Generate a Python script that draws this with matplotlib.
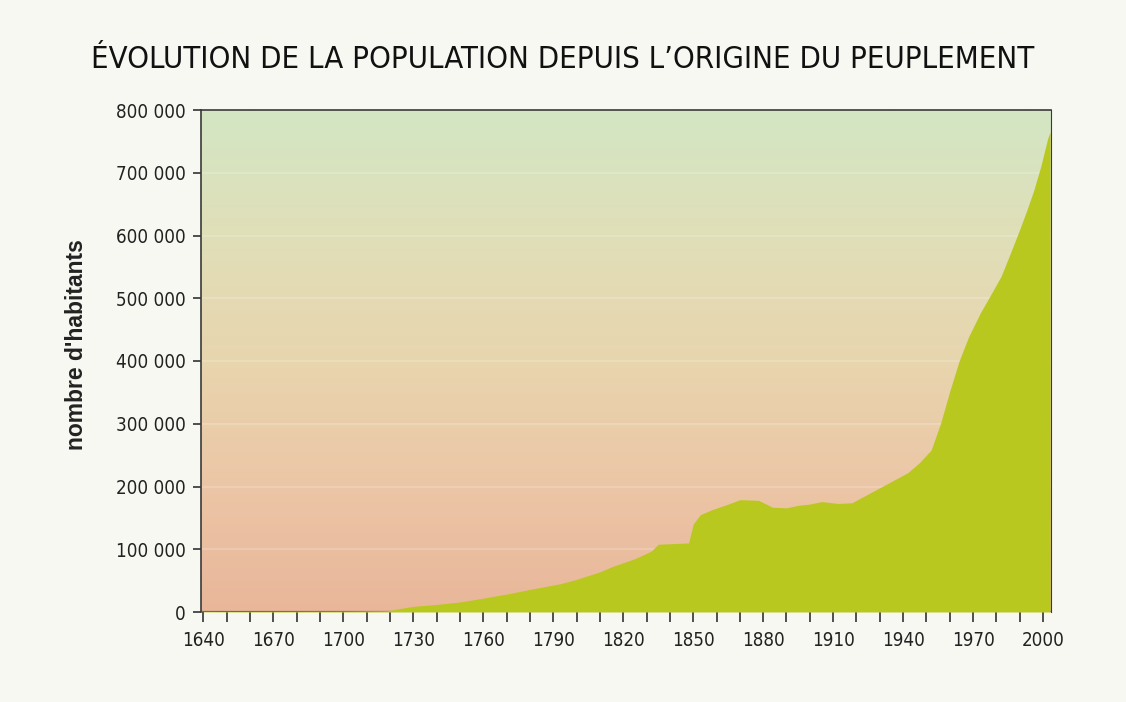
import numpy as np
import matplotlib
matplotlib.use("Agg")
import matplotlib.pyplot as plt
from matplotlib.colors import LinearSegmentedColormap
from matplotlib import font_manager
from matplotlib.font_manager import FontProperties

# ---- data ----
years = [1640, 1660, 1680, 1700, 1719, 1725, 1730, 1740, 1750, 1760, 1772, 1780,
         1793, 1800, 1810, 1815, 1825, 1832, 1835, 1848, 1850, 1853, 1858, 1865,
         1870, 1878, 1884, 1890, 1895, 1900, 1905, 1912, 1918, 1927, 1935, 1942,
         1947, 1952, 1956, 1960, 1964, 1968, 1973, 1977, 1982, 1986, 1990, 1993,
         1996, 1999, 2002, 2003]
population = [600, 800, 1000, 1200, 2000, 6000, 9000, 12000, 16000, 22000, 30000, 36000,
              45000, 52000, 64000, 72000, 85000, 97000, 108000, 110000, 140000, 155000, 163000, 172000,
              179000, 178000, 167000, 166000, 170000, 172000, 176000, 173000, 174000, 192000, 208000, 222000,
              238000, 258000, 300000, 352000, 400000, 438000, 476000, 502000, 535000, 572000, 610000, 640000,
              672000, 710000, 755000, 765000]
x_ticks = list(range(1640, 2001, 10))
x_labels = [str(y) if (y - 1640) % 30 == 0 else "" for y in x_ticks]
y_ticks = list(range(0, 800001, 100000))
y_labels = ["0" if v == 0 else f"{v // 1000} 000" for v in y_ticks]
title = "ÉVOLUTION DE LA POPULATION DEPUIS L\u2019ORIGINE DU PEUPLEMENT"
ylabel = "nombre d'habitants"


# ---- find a condensed font if one exists ----
def find_condensed():
    best = None
    for f in font_manager.fontManager.ttflist:
        name = (f.name + " " + f.fname).lower()
        st = str(f.stretch).lower()
        cond = ("condensed" in st or "narrow" in name or "condensed" in name)
        if not cond:
            continue
        if "mono" in name or "serif" in name and "sans" not in name:
            continue
        if "bold" in f.fname.lower() or "oblique" in f.fname.lower() or "italic" in f.fname.lower():
            continue
        if str(f.weight) not in ("400", "normal", "regular", "book"):
            continue
        best = f.fname
        break
    return best


cpath = find_condensed()
if cpath:
    def fp(size):
        return FontProperties(fname=cpath, size=size)
    tick_size = 13.5
else:
    def fp(size):
        return FontProperties(family="Liberation Sans", size=size)
    tick_size = 12.5

fig = plt.figure(figsize=(11.26, 7.02), dpi=100, facecolor="#f8f8f3")
ax = fig.add_axes([201/1126, 1 - 612/702, 850/1126, 502/702])
ax.set_xlim(1639, 2003.4)
ax.set_ylim(0, 800000)

# gradient background
cmap = LinearSegmentedColormap.from_list(
    "bg", [(0.0, "#e9b69a"), (0.25, "#ecc6a6"), (0.5, "#e8d5ae"),
           (0.75, "#e0dfb8"), (1.0, "#d3e6c4")])
grad = np.linspace(0, 1, 256).reshape(-1, 1)
ax.imshow(grad, aspect="auto", cmap=cmap, origin="lower",
          extent=[1639, 2003.4, 0, 800000], zorder=0)

# faint horizontal lines
for v in y_ticks[1:-1]:
    ax.axhline(v, color="white", alpha=0.22, lw=1.2, zorder=1)
ax.axhline(0, color="#8a6050", lw=1.6, zorder=1.5)

ax.fill_between(years, population, 0, color="#b9c81e", lw=0, zorder=2)

for s in ["left", "top", "right"]:
    ax.spines[s].set_color("#3a3a3a")
    ax.spines[s].set_linewidth(1.2)
ax.spines["right"].set_linewidth(0.8)
ax.spines["bottom"].set_visible(False)

ax.set_xticks(x_ticks)
ax.set_xticklabels(x_labels, fontproperties=fp(tick_size), color="#222222")
ax.set_yticks(y_ticks)
ax.set_yticklabels(y_labels, fontproperties=fp(tick_size), color="#222222")
ax.tick_params(axis="x", direction="out", length=7, width=1.2, color="#333333", pad=7)
ax.tick_params(axis="y", direction="out", length=6, width=1.2, color="#333333", pad=5)

fig.text(77/1126, 1 - 345/702, ylabel, rotation=90, ha="center", va="center",
         fontsize=16.5, fontweight="bold", family="Liberation Sans", color="#222222")

# title, sized to span the same width as the reference
t = fig.text(0.5, 1 - 60/702, title, ha="center", va="center",
             fontproperties=fp(32), color="#111111")
fig.canvas.draw()
w = t.get_window_extent().width
target = 943.0
t.set_fontsize(32 * target / w)

fig.savefig("out.png", dpi=100, facecolor=fig.get_facecolor())
